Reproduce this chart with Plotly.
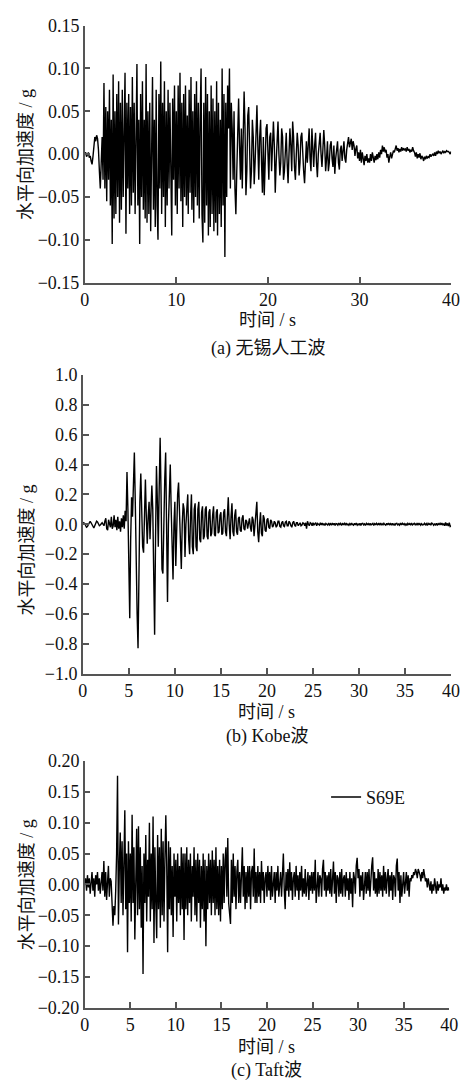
import numpy as np
import plotly.graph_objects as go

# ---------------- data ----------------
dt = 0.1

wave_a = [  # 无锡人工波, g, step 0.1 s, 0..40 s
    0, .002, -.003, 0, .002, -.004, -.002, -.008, -.012, -.003,
    .008, .02, .015, .022, .018, .005, -.02, -.04, -.01, .02,
    -.03, .083, -.04, .055, -.055, .05, -.03, .075, -.06, .04,
    -.105, .093, -.075, .05, -.07, .07, -.05, .085, -.08, .06,
    -.065, .075, -.05, .045, .095, -.093, .06, -.04, .07, -.07,
    .055, -.06, .09, -.045, .06, -.07, .03, .105, -.06, .04,
    -.105, .07, -.05, .085, -.065, .04, -.075, .105, -.08, .05,
    -.07, .06, -.09, .055, .09, -.065, .04, -.085, .075, -.06,
    -.1, .07, -.04, .108, -.07, .06, -.05, .085, -.085, .05,
    -.06, .075, -.04, .06, -.05, -.095, .065, -.03, .08, -.06,
    .05, -.07, .08, -.04, .095, -.055, .06, -.085, .07, -.05,
    .08, -.06, .045, -.07, .075, -.045, .09, -.065, .05, -.08,
    .07, -.05, .085, -.06, .06, -.075, .04, .1, -.07, -.103,
    .06, -.08, .09, -.06, .07, -.095, .05, -.085, .08, -.07,
    .065, -.09, .05, -.08, .085, -.095, .06, -.07, .04, -.085,
    .1, -.06, .07, -.12, .06, -.05, .08, .03, .1, -.04,
    .06, .03, -.03, .05, -.04, -.07, -.02, .04, .065, .01,
    -.03, .03, -.04, .02, .073, .03, -.048, -.02, .045, .055,
    .01, -.04, -.02, .04, .02, -.035, -.01, .045, .057, .01,
    -.03, .02, .04, -.01, -.045, .02, -.048, -.01, .03, .035,
    -.01, -.03, .02, .025, -.02, .01, .038, .01, -.045, -.01,
    .02, .038, 0, -.025, -.01, .03, .02, -.03, -.02, .015,
    .025, -.01, -.034, 0, .03, .01, -.02, .038, .02, -.015,
    -.03, 0, .025, .01, -.025, -.01, .02, .025, -.005, -.02,
    -.034, 0, .015, -.01, .02, .03, -.005, -.02, .03, .01,
    -.015, .01, .025, -.01, -.027, 0, .02, .025, 0, -.015,
    .005, .028, .01, -.02, -.005, .015, -.02, -.01, .01, .015,
    -.005, -.015, .01, -.023, -.005, .01, .015, -.01, -.018, .005,
    .01, -.008, .005, .015, -.005, -.01, .005, .015, .02, .008,
    .012, .018, .005, .015, .01, -.002, .006, .01, -.005, .002,
    -.008, .005, -.01, .002, -.005, -.013, -.002, -.008, 0, -.01,
    -.005, -.01, 0, -.008, .002, -.006, -.01, -.002, -.007, 0,
    -.006, .002, -.004, .005, 0, .01, .003, .008, .002, .005,
    -.004, 0, -.01, -.003, .002, -.005, 0, .004, .002, .006,
    .01, .004, .007, .002, .006, .003, .008, .004, .007, .005,
    .006, .003, .008, .004, .006, .002, .005, .003, .008, .004,
    .002, -.003, .002, -.005, 0, -.004, .001, -.006, -.002, -.004,
    -.008, -.003, -.006, -.002, -.005, -.003, -.004, 0, -.003, -.001,
    0, -.002, .002, -.002, .003, 0, .004, .001, .003, 0,
    .002, .004, .001, .003, .002, .004, .003, .003, .002, 0,
    .003,
]

wave_b = [  # Kobe波, g, step 0.1 s
    0, .01, .005, -.01, -.02, -.015, 0, .015, .02, .01,
    -.005, -.02, -.025, -.01, .01, .02, .015, 0, -.01, -.005,
    .005, .01, 0, -.01, .02, .04, -.03, -.04, .03, .01,
    -.02, .05, -.03, -.01, .06, -.02, .03, -.04, .05, -.03,
    .02, -.05, .04, -.02, .06, -.03, .09, .02, .35, .1,
    -.3, -.63, -.1, .18, .05, .3, .48, .15, -.3, -.6,
    -.83, -.25, .15, .34, .05, -.15, -.19, .1, .3, .05,
    -.13, .05, .15, -.1, .1, .26, .1, -.35, -.74, -.1,
    .39, .15, -.15, .25, .58, .2, -.3, -.33, .05, .3,
    .48, -.1, -.52, 0, .25, .4, .1, -.2, -.37, 0,
    .15, -.28, .05, .2, .28, .1, -.2, -.3, 0, .14,
    .1, -.22, 0, .14, .2, -.1, -.2, .05, .2, -.15,
    -.2, .1, .14, -.15, -.18, .1, .15, -.1, -.12, .08,
    .12, -.1, -.08, .1, .12, -.08, -.1, .08, .1, -.08,
    -.06, .06, .12, -.07, -.08, .08, .1, -.06, -.05, .06,
    .08, -.07, -.06, .08, .1, -.05, -.08, .05, .18, 0,
    -.1, .05, .14, -.05, -.08, .06, .1, -.05, -.07, .04,
    .05, -.04, -.05, .04, .06, -.03, -.04, .03, .02, -.03,
    .02, .04, -.02, -.05, .05, .03, -.08, 0, .1, .15,
    -.05, -.12, 0, .08, -.06, -.08, .06, .04, -.04, -.05,
    .03, .04, -.02, -.03, .03, .02, -.02, -.01, .02, .01,
    -.02, -.01, .02, .02, -.015, -.02, .01, .02, -.01, -.015,
    .015, .02, -.01, -.01, .02, .01, -.01, -.02, .01, .02,
    -.005, -.015, .01, .01, -.01, .005, .01, -.01, -.005, .01,
    .005, -.01, .01, -.03, .02, 0, -.01, .01, .005, -.01,
    .01, -.005, 0, .01, -.01, .005, 0, -.005, .01, -.005,
    .008, -.006, .004, -.008, .006, .002, -.006, .008, -.004, .004,
    -.006, .008, -.004, .006, -.008, .004, .002, -.006, .008, -.002,
    .006, -.008, .004, -.002, .006, -.006, .008, -.004, .002, -.006,
    .004, -.006, .008, -.002, -.006, .006, -.004, .008, -.006, .002,
    -.004, .006, -.008, .004, .006, -.004, .002, -.008, .006, -.002,
    .004, -.006, .006, -.004, .002, .006, -.008, .004, -.002, .006,
    -.006, .004, -.002, .008, -.006, .004, -.004, .006, -.002, -.006,
    .006, -.004, .008, -.002, .004, -.006, .006, -.004, .002, -.008,
    .004, .006, -.004, .002, -.006, .008, -.004, .006, -.002, .004,
    -.006, .004, -.008, .006, -.002, .004, -.006, .008, -.004, .002,
    .006, -.004, .004, -.006, .008, -.002, .004, -.006, .004, -.004,
    -.002, .006, -.004, .004, -.008, .006, -.002, .004, -.006, .008,
    .004, -.006, .002, -.004, .006, -.008, .004, -.002, .006, -.004,
    .008, -.006, .004, -.01, .012, -.008, .006, -.012, .01, -.015,
    -.01,
]

wave_c = [  # Taft波 S69E, g, step 0.1 s
    0, .01, -.01, .015, -.005, .01, -.015, .005, .02, -.01,
    .01, -.02, .015, 0, .02, -.01, .01, -.015, .005, .02,
    -.01, .038, -.02, .02, -.025, .015, .03, -.02, .01, .005,
    -.03, -.067, -.035, -.05, -.01, .05, .176, -.065, .03, .084,
    -.03, .07, -.05, .06, .12, -.04, .05, -.11, .07, -.03,
    .05, -.06, .113, -.03, .06, -.089, .04, .09, -.05, .094,
    -.04, .06, -.07, .03, -.145, .05, -.03, .08, -.06, .04,
    -.02, .1, -.06, .05, -.04, .11, -.095, .06, -.03, -.087,
    .08, -.04, .06, -.07, .09, -.05, .07, -.06, .04, .112,
    .03, -.11, .07, -.04, .06, -.05, .03, -.085, .05, -.02,
    .04, -.06, .05, -.03, .03, -.05, .06, -.04, .05, -.09,
    .05, -.04, .06, -.05, .04, -.03, .05, -.06, .03, -.02,
    .06, -.05, .04, -.06, .05, -.03, .04, -.07, .03, -.04,
    .05, -.06, .04, -.1, .03, -.04, .05, -.03, .04, -.05,
    .055, -.03, .04, -.05, .06, -.04, .03, -.05, .04, -.06,
    .03, -.04, .05, -.03, .04, .06, -.02, .075, -.03, -.05,
    -.064, .04, -.03, .05, -.02, .03, -.04, .02, .04, -.03,
    .02, -.03, .03, .06, -.02, .03, -.04, .02, -.03, .03,
    -.02, .03, -.04, .02, .03, -.02, .058, -.03, .02, -.03,
    .03, -.02, .02, -.03, .038, -.01, .02, -.03, .01, .02,
    -.02, .03, -.01, .02, -.025, .03, -.02, .01, .02, -.03,
    .02, -.01, .03, -.02, .01, .02, -.02, .03, .05, -.01,
    -.04, .02, -.01, .025, -.02, .036, -.01, .02, -.025, .01,
    .02, -.02, .03, -.01, .015, -.025, .02, -.01, .03, -.02,
    .01, -.015, .025, -.02, .01, .02, -.025, .015, -.01, .02,
    -.015, .02, -.01, .04, -.03, .01, .02, -.02, .015, .01,
    -.02, .025, .04, -.01, .02, -.02, .015, -.01, .02, -.015,
    .025, -.02, .01, .037, -.015, .02, -.03, .015, .01, -.02,
    .02, -.015, .025, -.02, .01, .015, -.02, .02, -.01, .01,
    -.025, .02, -.015, .01, -.037, .02, .01, -.015, .03, .043,
    .01, .025, -.02, .015, -.01, .02, -.025, .01, .02, -.015,
    .02, -.01, .025, -.02, .015, .03, .044, -.01, .02, -.015,
    .01, -.02, .025, -.015, .02, -.01, .015, -.02, .03, -.01,
    .02, -.015, .01, .025, -.02, .015, -.01, .02, -.025, .015,
    .01, -.02, .03, .042, -.01, .02, -.03, .015, -.02, .01,
    .02, -.015, .01, .02, -.01, .015, -.02, .01, .005, .015,
    .01, .02, .015, .025, .02, .01, .025, .02, .015, .005,
    .02, .01, .025, .015, .005, .01, -.005, .01, 0, -.01,
    .005, -.015, 0, -.01, .01, -.005, -.015, .005, -.01, 0,
    -.005, .01, -.01, 0, -.015, -.005, -.01, 0, -.01, -.005,
    -.01,
]

x_title = "时间 / s"
y_title = "水平向加速度 / g"
captions = ["(a) 无锡人工波", "(b) Kobe波", "(c) Taft波"]
legend_name = "S69E"

# ---------------- figure ----------------
# the page body keeps its default 8px margin, so the figure is 16px smaller
OFF = 8
W, H = 472 - 2 * OFF, 1091 - 2 * OFF
FONT = "Liberation Serif, 'Times New Roman', 'Noto Sans CJK SC', serif"
AXC = "#555555"
TXT = "#111111"
FS = 18

def px(x):  # page pixel -> paper fraction
    return (x - OFF) / W

def py(y):
    return 1 - (y - OFF) / H

t_a = np.arange(len(wave_a)) * dt
t_b = np.arange(len(wave_b)) * dt
t_c = np.arange(len(wave_c)) * dt

LW = 1.4
fig = go.Figure()
fig.add_trace(go.Scatter(x=t_a, y=wave_a, mode="lines", line=dict(color="black", width=LW),
                         showlegend=False, xaxis="x", yaxis="y"))
fig.add_trace(go.Scatter(x=t_b, y=wave_b, mode="lines", line=dict(color="black", width=LW),
                         showlegend=False, xaxis="x2", yaxis="y2"))
fig.add_trace(go.Scatter(x=t_c, y=wave_c, mode="lines", line=dict(color="black", width=LW),
                         name=legend_name, showlegend=True, xaxis="x3", yaxis="y3"))

def xaxis(dom, anchor, dtick):
    return dict(domain=dom, anchor=anchor, range=[0, 40], dtick=dtick, tick0=0,
                showline=True, linecolor=AXC, linewidth=1.5, ticks="inside", ticklen=6,
                tickcolor=AXC, tickwidth=1.5, showgrid=False, zeroline=False,
                ticklabeloverflow="allow",
                tickfont=dict(family=FONT, size=FS, color=TXT))

def yaxis(dom, anchor, rng, dtick, fmt):
    return dict(domain=dom, anchor=anchor, range=rng, dtick=dtick, tick0=rng[0],
                tickformat=fmt, showline=True, linecolor=AXC, linewidth=1.5,
                ticks="inside", ticklen=6, tickcolor=AXC, tickwidth=1.5,
                showgrid=False, zeroline=False, ticklabeloverflow="allow",
                tickfont=dict(family=FONT, size=FS, color=TXT))

# panel geometry (page pixels)
pa = dict(x0=82, x1=460, y0=15.7, y1=277.7)
pb = dict(x0=80, x1=460, y0=371.7, y1=676)
pc = dict(x0=82, x1=458, y0=765, y1=1016.7)

fig.update_layout(
    width=W, height=H, margin=dict(l=0, r=0, t=0, b=0),
    paper_bgcolor="white", plot_bgcolor="white",
    font=dict(family=FONT, size=FS, color=TXT),
    xaxis=xaxis([px(pa["x0"]), px(pa["x1"])], "y", 10),
    yaxis=yaxis([py(pa["y1"]), py(pa["y0"])], "x", [-0.15, 0.15], 0.05, ".2f"),
    xaxis2=xaxis([px(pb["x0"]), px(pb["x1"])], "y2", 5),
    yaxis2=yaxis([py(pb["y1"]), py(pb["y0"])], "x2", [-1.0, 1.0], 0.2, ".1f"),
    xaxis3=xaxis([px(pc["x0"]), px(pc["x1"])], "y3", 5),
    yaxis3=yaxis([py(pc["y1"]), py(pc["y0"])], "x3", [-0.2, 0.2], 0.05, ".2f"),
    legend=dict(x=px(331), y=py(802), xanchor="left", yanchor="middle",
                bgcolor="rgba(0,0,0,0)", font=dict(family=FONT, size=FS, color=TXT)),
)

ann = []
ycent = [147, 550, 891]
xt_y = [316, 715, 1057]
cap_y = [345, 740, 1080]
centers_x = [(pa["x0"] + pa["x1"]) / 2, (pb["x0"] + pb["x1"]) / 2, (pc["x0"] + pc["x1"]) / 2]
for i in range(3):
    ann.append(dict(text=y_title, x=px(22), y=py(ycent[i]), xref="paper", yref="paper",
                    textangle=-90, showarrow=False, xanchor="center", yanchor="middle",
                    font=dict(family=FONT, size=FS, color=TXT)))
    ann.append(dict(text=x_title, x=px(centers_x[i]), y=py(xt_y[i]), xref="paper", yref="paper",
                    showarrow=False, xanchor="center", yanchor="middle",
                    font=dict(family=FONT, size=FS, color=TXT)))
    ann.append(dict(text=captions[i], x=px(centers_x[i]), y=py(cap_y[i]), xref="paper", yref="paper",
                    showarrow=False, xanchor="center", yanchor="middle",
                    font=dict(family=FONT, size=FS, color=TXT)))
fig.update_layout(annotations=ann)

fig.write_html("out.html")
